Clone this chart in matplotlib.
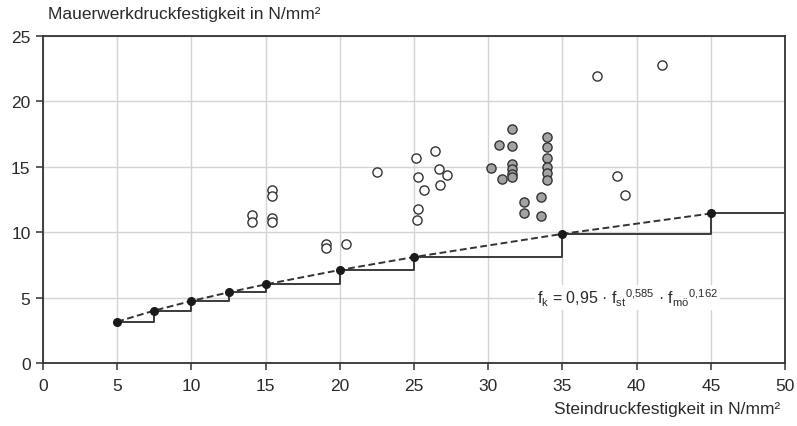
import matplotlib
matplotlib.use("Agg")
import matplotlib.pyplot as plt

plt.rcParams['font.family'] = ['Liberation Sans', 'DejaVu Sans']
plt.rcParams['mathtext.fontset'] = 'custom'
plt.rcParams['mathtext.rm'] = 'Liberation Sans'
plt.rcParams['mathtext.it'] = 'Liberation Sans'

# Characteristic strength curve points
fst_points = [5, 7.5, 10, 12.5, 15, 20, 25, 35, 45]
fk_points = [3.16, 4.01, 4.74, 5.40, 6.01, 7.11, 8.10, 9.87, 11.43]
step_end_x = 50

# Test results (open circles)
open_x = [14.1, 14.1, 15.4, 15.4, 15.4, 15.4, 19.1, 19.1, 20.4, 22.5,
          25.1, 26.4, 26.7, 27.2, 25.3, 25.7, 26.75, 25.3, 25.2,
          37.3, 41.7, 38.7, 39.2]
open_y = [11.3, 10.8, 13.2, 12.8, 11.1, 10.8, 9.1, 8.8, 9.1, 14.6,
          15.65, 16.2, 14.83, 14.37, 14.25, 13.2, 13.6, 11.8, 10.95,
          21.9, 22.8, 14.3, 12.85]

# Test results (grey circles)
grey_x = [31.6, 30.75, 31.6, 30.2, 30.9, 31.6, 31.6, 31.6, 31.6,
          33.95, 33.95, 33.95, 33.95, 33.95, 33.95,
          32.4, 32.4, 33.55, 33.55]
grey_y = [17.9, 16.7, 16.55, 14.88, 14.1, 15.2, 14.8, 14.45, 14.2,
          17.25, 16.5, 15.7, 14.96, 14.5, 14.0,
          12.3, 11.45, 12.7, 11.25]

x_ticks = [0, 5, 10, 15, 20, 25, 30, 35, 40, 45, 50]
y_ticks = [0, 5, 10, 15, 20, 25]

TXT = '#2a2a2a'

fig = plt.figure(figsize=(7.97, 4.27), dpi=100)
ax = fig.add_axes([0.054, 0.1475, 0.931, 0.766])

ax.set_xlim(0, 50)
ax.set_ylim(0, 25)
ax.set_xticks(x_ticks)
ax.set_yticks(y_ticks)
ax.grid(True, color='#d4d4d4', linewidth=1.0, zorder=0)
ax.set_axisbelow(True)
for s in ax.spines.values():
    s.set_color('#333333')
    s.set_linewidth(1.3)
ax.tick_params(axis='both', direction='out', length=5, width=1.1,
               color='#333333', labelsize=12.5, labelcolor=TXT)
ax.tick_params(axis='x', pad=6)
ax.tick_params(axis='y', pad=4)

# step line
sx = fst_points + [step_end_x]
sy = fk_points + [fk_points[-1]]
ax.step(sx, sy, where='post', color='#3a3a3a', linewidth=1.4, zorder=3)
# dashed line
ax.plot(fst_points, fk_points, linestyle=(0, (3.5, 1.8)), color='#333333',
        linewidth=1.4, zorder=4)
ax.plot(fst_points, fk_points, 'o', color='#1a1a1a', markersize=5.5, zorder=5)

ax.plot(open_x, open_y, 'o', markerfacecolor='white', markeredgecolor='#333333',
        markersize=6.6, markeredgewidth=1.0, linestyle='none', zorder=5)
ax.plot(grey_x, grey_y, 'o', markerfacecolor='#a3a3a3', markeredgecolor='#333333',
        markersize=6.6, markeredgewidth=1.0, linestyle='none', zorder=5)

formula = (r"f$_\mathrm{k}$ = 0,95 · f$_\mathrm{st}$$^\mathrm{0{,}585}$ · "
           "f$_\\mathrm{mö}$$^\\mathrm{0{,}162}$")
ax.text(39.4, 5.0, formula,
        ha='center', va='center', fontsize=11.5, color=TXT, zorder=6,
        bbox=dict(facecolor='white', edgecolor='none', pad=1.5))

fig.text(0.06, 0.965, "Mauerwerkdruckfestigkeit in N/mm²", ha='left', va='center',
         fontsize=12.5, color=TXT)
fig.text(0.979, 0.04, "Steindruckfestigkeit in N/mm²", ha='right', va='center',
         fontsize=12.5, color=TXT)

fig.savefig("out.png", dpi=100)
